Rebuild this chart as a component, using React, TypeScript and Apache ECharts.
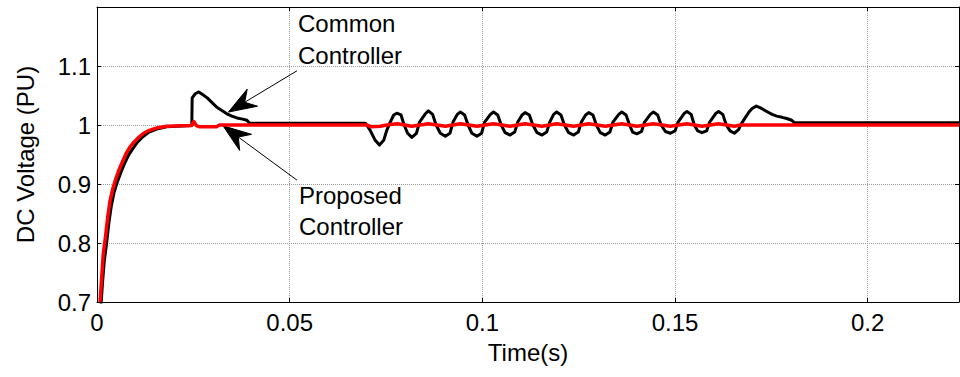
import React, { useEffect, useRef } from "react";
import * as echarts from "echarts";

// ---- data ----
const xTickLabels = ["0", "0.05", "0.1", "0.15", "0.2"];
const yTickLabels = ["0.7", "0.8", "0.9", "1", "1.1"];

const commonT = [
  0.0010, 0.0014, 0.0019, 0.0025, 0.0031, 0.0037, 0.0044, 0.0052, 0.0061, 0.0071, 0.0082, 0.0093, 0.0105, 0.0119, 0.0135, 0.0155, 0.0180, 0.0246,
  0.0247, 0.0255, 0.0264, 0.0273, 0.0286, 0.0300, 0.0311, 0.0325, 0.0337, 0.0350, 0.0363, 0.0378, 0.0389, 0.0396, 0.0697,
  0.0709, 0.0722, 0.0733, 0.0744, 0.0752, 0.0761, 0.0770, 0.0778, 0.0789, 0.0797, 0.0806, 0.0817,
  0.0829, 0.0837, 0.0852, 0.0860, 0.0871, 0.0880, 0.0891, 0.0904,
  0.0916, 0.0924, 0.0935, 0.0943, 0.0954, 0.0963, 0.0973, 0.0986,
  0.0998, 0.1006, 0.1021, 0.1029, 0.1040, 0.1049, 0.1059, 0.1072,
  0.1084, 0.1092, 0.1103, 0.1111, 0.1122, 0.1131, 0.1142, 0.1155,
  0.1167, 0.1175, 0.1185, 0.1193, 0.1204, 0.1213, 0.1224, 0.1237,
  0.1249, 0.1257, 0.1268, 0.1276, 0.1287, 0.1296, 0.1306, 0.1319,
  0.1331, 0.1339, 0.1354, 0.1362, 0.1373, 0.1382, 0.1390, 0.1401,
  0.1413, 0.1421, 0.1436, 0.1444, 0.1455, 0.1464, 0.1475, 0.1488,
  0.1500, 0.1508, 0.1523, 0.1531, 0.1542, 0.1550, 0.1559, 0.1570,
  0.1582, 0.1590, 0.1605, 0.1613, 0.1624, 0.1633, 0.1643, 0.1654,
  0.1665, 0.1672, 0.1682, 0.1692, 0.1700, 0.1711, 0.1722, 0.1738, 0.1752, 0.1764, 0.1778, 0.1790, 0.1803, 0.1810, 0.2237,
];
const commonV = [
  0.690, 0.730, 0.770, 0.800, 0.835, 0.862, 0.885, 0.902, 0.918, 0.934, 0.949, 0.960, 0.971, 0.980, 0.988, 0.993, 0.997, 0.999,
  1.046, 1.053, 1.056, 1.052, 1.046, 1.037, 1.030, 1.024, 1.019, 1.015, 1.012, 1.010, 1.008, 1.003, 1.003,
  0.991, 0.974, 0.966, 0.974, 0.991, 1.005, 1.017, 1.020, 1.017, 1.000, 0.986, 0.979,
  0.986, 1.005, 1.019, 1.024, 1.018, 1.000, 0.986, 0.981,
  0.986, 1.005, 1.018, 1.022, 1.017, 1.000, 0.986, 0.981,
  0.986, 1.005, 1.018, 1.022, 1.017, 1.000, 0.987, 0.983,
  0.988, 1.005, 1.017, 1.021, 1.017, 1.000, 0.987, 0.983,
  0.988, 1.005, 1.018, 1.022, 1.017, 1.000, 0.987, 0.983,
  0.988, 1.005, 1.017, 1.021, 1.017, 1.000, 0.987, 0.983,
  0.988, 1.005, 1.018, 1.022, 1.017, 1.000, 0.988, 0.985,
  0.989, 1.005, 1.018, 1.022, 1.017, 1.000, 0.989, 0.986,
  0.990, 1.005, 1.019, 1.023, 1.018, 1.000, 0.990, 0.987,
  0.990, 1.005, 1.019, 1.023, 1.018, 1.000, 0.990, 0.986,
  0.992, 1.002, 1.012, 1.022, 1.028, 1.032, 1.029, 1.023, 1.018, 1.015, 1.013, 1.011, 1.008, 1.004, 1.004,
];

const proposedT = [
  0.0008, 0.0012, 0.0016, 0.0022, 0.0028, 0.0034, 0.0041, 0.0048, 0.0056, 0.0065, 0.0075, 0.0085, 0.0096, 0.0108, 0.0121, 0.0136, 0.0155, 0.0180,
  0.0245, 0.0251, 0.0258, 0.0265, 0.0310, 0.0318, 0.0700, 0.0712, 0.0735, 0.0760, 0.0780,
  0.0817, 0.0860, 0.0904, 0.0943, 0.0986, 0.1029, 0.1072, 0.1111, 0.1155, 0.1193, 0.1237, 0.1276, 0.1319, 0.1362, 0.1401, 0.1444,
  0.1488, 0.1531, 0.1570, 0.1613, 0.1654, 0.1670, 0.2237,
];
const proposedV = [
  0.700, 0.740, 0.780, 0.810, 0.845, 0.872, 0.892, 0.907, 0.922, 0.936, 0.951, 0.962, 0.971, 0.979, 0.986, 0.991, 0.995, 0.998,
  0.999, 1.006, 0.999, 0.997, 0.997, 1.000, 1.000, 0.997, 0.998, 1.001, 1.002,
  0.998, 1.002, 0.998, 1.002, 0.998, 1.002, 0.998, 1.002, 0.998, 1.002, 0.998, 1.002, 0.998, 1.002, 0.998, 1.002,
  0.998, 1.002, 0.998, 1.002, 0.998, 1.000, 1.000,
];

// annotations (data coordinates)
const commonArrow = { tail: [0.0519, 1.0919], tip: [0.0341, 1.0219] };
const proposedArrow = { tail: [0.0519, 0.9065], tip: [0.0327, 0.9986] };
const commonLabel = "Common\nController";
const proposedLabel = "Proposed\nController";

const X_MIN = 0;
const X_MAX = 0.2237;
const Y_MIN = 0.7;
const Y_MAX = 1.2;

const FONT = "Arial, 'Liberation Sans', sans-serif";

function zip(t: number[], v: number[]) {
  return t.map((x, i) => [x, v[i]]);
}

function arrowGraphics(chart: any, arrow: { tail: number[]; tip: number[] }) {
  const T = chart.convertToPixel({ gridIndex: 0 }, arrow.tip);
  const S = chart.convertToPixel({ gridIndex: 0 }, arrow.tail);
  const dx = S[0] - T[0];
  const dy = S[1] - T[1];
  const len = Math.sqrt(dx * dx + dy * dy);
  const ux = dx / len;
  const uy = dy / len;
  const nx = -uy;
  const ny = ux;
  const headLen = 28;
  const half = 10;
  const notch = 19;
  const p1 = [T[0] + headLen * ux + half * nx, T[1] + headLen * uy + half * ny];
  const p2 = [T[0] + notch * ux, T[1] + notch * uy];
  const p3 = [T[0] + headLen * ux - half * nx, T[1] + headLen * uy - half * ny];
  return [
    {
      type: "line",
      shape: { x1: S[0], y1: S[1], x2: p2[0], y2: p2[1] },
      style: { stroke: "#000", lineWidth: 1 },
      silent: true,
    },
    {
      type: "polygon",
      shape: { points: [T, p1, p2, p3] },
      style: { fill: "#000", stroke: "#000", lineWidth: 1 },
      silent: true,
    },
  ];
}

export default function App() {
  const ref = useRef<HTMLDivElement>(null);

  useEffect(() => {
    if (!ref.current) return;
    const chart = echarts.init(ref.current, null, { renderer: "svg" });

    const axisText = { color: "#000", fontFamily: FONT, fontSize: 24 };
    const gridLine = { show: true, lineStyle: { color: "#9a9a9a", type: [1, 1], width: 1 } };

    const xCommon = {
      type: "value",
      min: X_MIN,
      max: X_MAX,
      interval: 0.05,
      axisLine: { show: true, onZero: false, lineStyle: { color: "#000", width: 1 } },
      axisTick: { show: true, inside: true, length: 4, lineStyle: { color: "#000" } },
    };
    const yCommon = {
      type: "value",
      min: Y_MIN,
      max: Y_MAX,
      interval: 0.1,
      axisLine: { show: true, onZero: false, lineStyle: { color: "#000", width: 1 } },
      axisTick: { show: true, inside: true, length: 4, lineStyle: { color: "#000" } },
    };

    chart.setOption({
      animation: false,
      backgroundColor: "#fff",
      grid: { left: 97, right: 1, top: 7, bottom: 75, containLabel: false },
      xAxis: [
        {
          ...xCommon,
          position: "bottom",
          name: "Time(s)",
          nameLocation: "middle",
          nameGap: 38,
          nameTextStyle: { ...axisText },
          axisLabel: {
            ...axisText,
            margin: 8,
            showMaxLabel: false,
            formatter: (v: number) => {
              const idx = Math.round(v / 0.05);
              return Math.abs(v - idx * 0.05) < 1e-9 && xTickLabels[idx] !== undefined ? xTickLabels[idx] : "";
            },
          },
          splitLine: gridLine,
        },
        {
          ...xCommon,
          position: "top",
          axisLabel: { show: false },
          splitLine: { show: false },
        },
      ],
      yAxis: [
        {
          ...yCommon,
          position: "left",
          name: "DC Voltage (PU)",
          nameLocation: "middle",
          nameGap: 60,
          nameRotate: 90,
          nameTextStyle: { ...axisText },
          axisLabel: {
            ...axisText,
            margin: 6,
            showMaxLabel: false,
            formatter: (v: number) => {
              const idx = Math.round((v - Y_MIN) / 0.1);
              return yTickLabels[idx] !== undefined ? yTickLabels[idx] : "";
            },
          },
          splitLine: gridLine,
        },
        {
          ...yCommon,
          position: "right",
          axisLabel: { show: false },
          splitLine: { show: false },
        },
      ],
      series: [
        {
          type: "line",
          name: "Common Controller",
          xAxisIndex: 0,
          yAxisIndex: 0,
          data: zip(commonT, commonV),
          showSymbol: false,
          symbol: "none",
          lineStyle: { color: "#000", width: 3, join: "round" },
          clip: true,
          z: 2,
        },
        {
          type: "line",
          name: "Proposed Controller",
          xAxisIndex: 0,
          yAxisIndex: 0,
          data: zip(proposedT, proposedV),
          showSymbol: false,
          symbol: "none",
          lineStyle: { color: "#ff0000", width: 3.5, join: "round" },
          clip: true,
          z: 3,
        },
      ],
    });

    const graphics: any[] = [
      ...arrowGraphics(chart, commonArrow),
      ...arrowGraphics(chart, proposedArrow),
      {
        type: "text",
        x: 298,
        y: 7,
        style: {
          text: commonLabel,
          fill: "#000",
          fontFamily: FONT,
          fontSize: 24,
          lineHeight: 32,
          align: "left",
          verticalAlign: "top",
        },
        silent: true,
      },
      {
        type: "text",
        x: 299,
        y: 180,
        style: {
          text: proposedLabel,
          fill: "#000",
          fontFamily: FONT,
          fontSize: 24,
          lineHeight: 31,
          align: "left",
          verticalAlign: "top",
        },
        silent: true,
      },
    ];
    chart.setOption({ graphic: graphics });

    return () => {
      chart.dispose();
    };
  }, []);

  return (
    <div
      ref={ref}
      style={{ position: "fixed", left: 0, top: 0, width: 960, height: 377, background: "#fff" }}
    />
  );
}
